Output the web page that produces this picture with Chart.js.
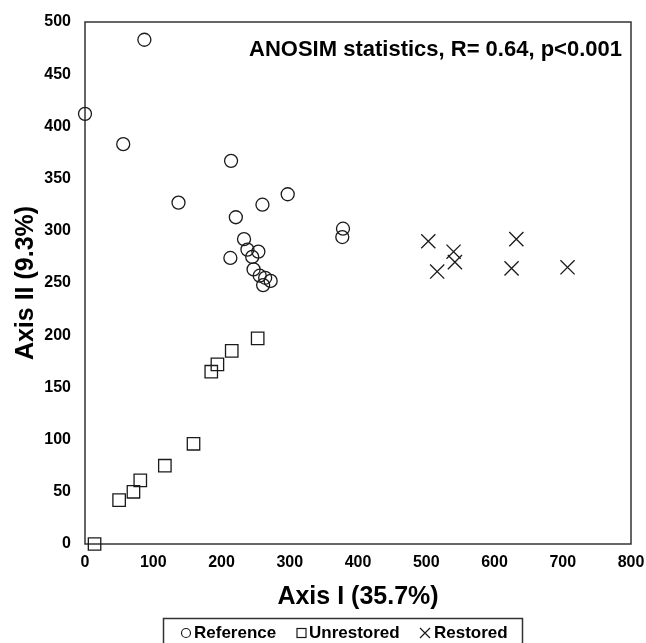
<!DOCTYPE html>
<html>
<head>
<meta charset="utf-8">
<script src="https://cdn.jsdelivr.net/npm/chart.js@4"></script>
<style>
  html, body { margin: 0; padding: 0; background: #fff; }
  #wrap { width: 646px; height: 643px; }
</style>
</head>
<body>
<div id="wrap"><canvas id="pcoaChart" width="646" height="643"></canvas></div>
<script>
// ordination scores
const refX = [0, 87, 56, 137, 214, 221, 260, 297, 233, 213, 238, 245, 254, 247, 256, 264, 261, 272, 378, 377];
const refY = [412, 483, 383, 327, 367, 313, 325, 335, 292, 274, 282, 275, 280, 263, 257, 255, 248, 252, 302, 294];
const unrX = [14, 50, 71, 81, 117, 159, 185, 194, 215, 253];
const unrY = [0, 42, 50, 61, 75, 96, 165, 172, 185, 197];
const resX = [503, 632, 540, 542, 516, 625, 707];
const resY = [290, 292, 280, 270, 261, 264, 265];

const groupNames = ['Reference', 'Unrestored', 'Restored'];
const xTitle = 'Axis I (35.7%)';
const yTitle = 'Axis II (9.3%)';
const statsText = 'ANOSIM statistics, R= 0.64, p<0.001';

const FONT = '"Liberation Sans", Arial, sans-serif';
const INK = '#1a1a1a';

const toPoints = (xs, ys) => xs.map((x, i) => ({x: x, y: ys[i]}));

// frame round the plot area + stats text + boxed legend
const extras = {
    id: 'extras',
    beforeDatasetsDraw(chart) {
        const {ctx, chartArea: a} = chart;
        ctx.save();
        ctx.strokeStyle = '#333';
        ctx.lineWidth = 1.5;
        ctx.strokeRect(a.left, a.top, a.right - a.left, a.bottom - a.top);
        ctx.restore();
    },
    afterDraw(chart) {
        const ctx = chart.ctx;
        ctx.save();
        ctx.fillStyle = '#000';
        ctx.font = 'bold 22px ' + FONT;
        ctx.textAlign = 'right';
        ctx.textBaseline = 'middle';
        ctx.fillText(statsText, 622, 50);

        // legend
        ctx.strokeStyle = '#333';
        ctx.lineWidth = 1.5;
        ctx.strokeRect(163.5, 618.5, 359, 30);
        ctx.font = 'bold 17px ' + FONT;
        ctx.textAlign = 'left';
        const cy = 633;
        ctx.lineWidth = 1.2;
        ctx.strokeStyle = INK;
        ctx.beginPath();
        ctx.arc(186, cy, 4.5, 0, Math.PI * 2);
        ctx.stroke();
        ctx.fillText(groupNames[0], 194, cy);
        ctx.strokeRect(297, cy - 4.5, 9, 9);
        ctx.fillText(groupNames[1], 309, cy);
        ctx.beginPath();
        ctx.moveTo(420, cy - 5); ctx.lineTo(430, cy + 5);
        ctx.moveTo(430, cy - 5); ctx.lineTo(420, cy + 5);
        ctx.stroke();
        ctx.fillText(groupNames[2], 434, cy);
        ctx.restore();
    }
};

const ctx = document.getElementById('pcoaChart').getContext('2d');
new Chart(ctx, {
    type: 'scatter',
    data: {
        datasets: [
            {
                label: groupNames[0],
                data: toPoints(refX, refY),
                pointStyle: 'circle',
                pointRadius: 6.5,
                backgroundColor: 'rgba(0,0,0,0)',
                borderColor: INK,
                borderWidth: 1.3,
                clip: false
            },
            {
                label: groupNames[1],
                data: toPoints(unrX, unrY),
                pointStyle: 'rect',
                pointRadius: 8.8,
                backgroundColor: 'rgba(0,0,0,0)',
                borderColor: INK,
                borderWidth: 1.3,
                clip: false
            },
            {
                label: groupNames[2],
                data: toPoints(resX, resY),
                pointStyle: 'crossRot',
                pointRadius: 10,
                backgroundColor: 'rgba(0,0,0,0)',
                borderColor: INK,
                borderWidth: 1.3,
                clip: false
            }
        ]
    },
    options: {
        responsive: false,
        animation: false,
        layout: { padding: { left: 0, right: 15, top: 22, bottom: 0 } },
        plugins: {
            legend: { display: false },
            tooltip: { enabled: false }
        },
        scales: {
            x: {
                type: 'linear',
                min: 0,
                max: 800,
                ticks: {
                    stepSize: 100,
                    padding: 9,
                    color: '#000',
                    font: { family: FONT, size: 16, weight: 'bold' }
                },
                grid: { display: false, drawTicks: false },
                border: { display: false },
                title: {
                    display: true,
                    text: xTitle,
                    color: '#000',
                    font: { family: FONT, size: 25, weight: 'bold' },
                    padding: { top: 0, bottom: 31 }
                },
                afterFit(scale) {
                    scale.height = 99;
                    scale.paddingLeft = 0;
                    scale.paddingRight = 0;
                }
            },
            y: {
                type: 'linear',
                min: 0,
                max: 500,
                ticks: {
                    stepSize: 50,
                    padding: 14,
                    color: '#000',
                    font: { family: FONT, size: 16, weight: 'bold' }
                },
                grid: { display: false, drawTicks: false },
                border: { display: false },
                title: {
                    display: true,
                    text: yTitle,
                    color: '#000',
                    font: { family: FONT, size: 25, weight: 'bold' },
                    padding: { top: 11, bottom: 0 }
                },
                afterFit(scale) {
                    scale.width = 85;
                    scale.paddingTop = 0;
                    scale.paddingBottom = 0;
                }
            }
        }
    },
    plugins: [extras]
});
</script>
</body>
</html>
